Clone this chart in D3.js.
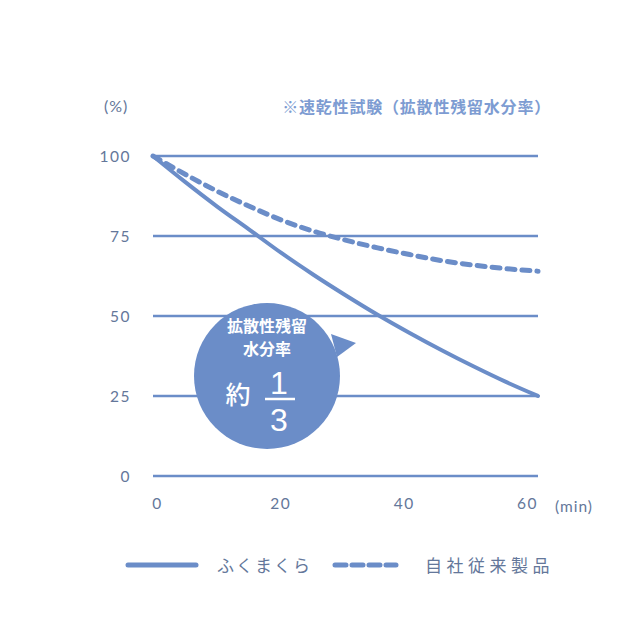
<!DOCTYPE html>
<html><head><meta charset="utf-8">
<script src="https://cdn.jsdelivr.net/npm/d3@7/dist/d3.min.js"></script>
<style>
html,body{margin:0;padding:0;background:#fff;}
svg{display:block;}
.jp{font-family:"Noto Sans CJK JP","Noto Sans",sans-serif;}
.num{font-family:"Lato","Noto Sans",sans-serif;font-weight:400;}
.frac{font-family:"Liberation Sans","Arial",sans-serif;font-weight:400;}
</style></head>
<body>
<svg id="c" width="640" height="640"></svg>
<script>
// ---- data ----
const minutes = [0,5,10,15,20,25,30,35,40,45,50,55,60];
const fukumakura = [100,91.9,84.2,77.0,69.7,62.9,56.5,50.4,44.7,39.3,34.2,29.4,25];
const conventional = [100,94.3,89.0,84.3,80.0,76.5,73.7,71.3,69.2,67.3,65.9,64.8,64.0];
const yTicks = [0,25,50,75,100];
const xTicks = [0,20,40,60];
const seriesNames = ["ふくまくら","自社従来製品"];
const titleText = "※速乾性試験（拡散性残留水分率）";
const yUnit = "(%)";
const xUnit = "(min)";
const bubbleLines = ["拡散性残留","水分率"];
const bubbleApprox = "約";
const bubbleNum = "1", bubbleDen = "3";

const blue = "#6b8dc8";
const textCol = "#64779a";

const svg = d3.select("#c");
const x = d3.scaleLinear().domain([0,60]).range([153,538]);
const y = d3.scaleLinear().domain([0,100]).range([476,156]);
const xLabel = d3.scaleLinear().domain([0,60]).range([157,527]);

// grid
svg.append("g").selectAll("line").data(yTicks).join("line")
  .attr("x1",x(0)).attr("x2",x(60))
  .attr("y1",d=>y(d)).attr("y2",d=>y(d))
  .attr("stroke",blue).attr("stroke-width",2.4);

// y axis labels
const ya = svg.append("g").attr("transform","translate(131,0)")
  .call(d3.axisLeft(y).tickValues(yTicks).tickSize(0).tickPadding(0));
ya.select(".domain").remove();
ya.selectAll("text").attr("class","num").attr("font-size",15.5).attr("fill",textCol)
  .attr("letter-spacing",1.5).attr("dy","0.35em");

// x axis labels
const xa = svg.append("g").attr("transform","translate(0,498)")
  .call(d3.axisBottom(xLabel).tickValues(xTicks).tickSize(0).tickPadding(0));
xa.select(".domain").remove();
xa.selectAll("text").attr("class","num").attr("font-size",15.5).attr("fill",textCol)
  .attr("letter-spacing",1.5).attr("dy","0.71em");

svg.append("text").attr("class","num").attr("x",555).attr("y",512)
  .attr("font-size",15.5).attr("fill",textCol).attr("letter-spacing",1).text(xUnit);
svg.append("text").attr("class","num").attr("x",104).attr("y",112)
  .attr("font-size",16).attr("fill",textCol).attr("letter-spacing",1).text(yUnit);
svg.append("text").attr("class","jp").attr("x",551).attr("y",113)
  .attr("text-anchor","end").attr("font-size",16).attr("font-weight",700)
  .attr("fill","#7d9cd2").attr("letter-spacing",0.8).text(titleText);

// lines
const line = d3.line().x((d,i)=>x(minutes[i])).y(d=>y(d)).curve(d3.curveMonotoneX);
svg.append("path").attr("d",line(conventional)).attr("fill","none")
  .attr("stroke",blue).attr("stroke-width",5).attr("stroke-dasharray","8,7")
  .attr("stroke-linecap","round");
svg.append("path").attr("d",line(fukumakura)).attr("fill","none")
  .attr("stroke",blue).attr("stroke-width",4).attr("stroke-linecap","round");

// bubble
const bg = svg.append("g");
bg.append("circle").attr("cx",267).attr("cy",376).attr("r",73).attr("fill",blue);
bg.append("path").attr("d","M331,334 L356,343 L337,357 Z").attr("fill",blue);
bg.selectAll("text.bl").data(bubbleLines).join("text").attr("class","jp bl")
  .attr("x",267).attr("y",(d,i)=>332+i*23).attr("text-anchor","middle")
  .attr("font-size",16).attr("font-weight",700).attr("fill","#fff").text(d=>d);
bg.append("text").attr("class","jp").attr("x",238).attr("y",404).attr("text-anchor","middle")
  .attr("font-size",25).attr("font-weight",500).attr("fill","#fff").text(bubbleApprox);
bg.append("text").attr("class","frac").attr("x",279).attr("y",393.5).attr("text-anchor","middle")
  .attr("font-size",32).attr("fill","#fff").text(bubbleNum);
bg.append("line").attr("x1",265).attr("x2",295).attr("y1",399).attr("y2",399)
  .attr("stroke","#fff").attr("stroke-width",2.5);
bg.append("text").attr("class","frac").attr("x",279).attr("y",430.5).attr("text-anchor","middle")
  .attr("font-size",32).attr("fill","#fff").text(bubbleDen);

// legend
svg.append("line").attr("x1",128).attr("x2",196).attr("y1",565).attr("y2",565)
  .attr("stroke",blue).attr("stroke-width",5).attr("stroke-linecap","round");
svg.append("line").attr("x1",335).attr("x2",396).attr("y1",565).attr("y2",565)
  .attr("stroke",blue).attr("stroke-width",5).attr("stroke-dasharray","11,6")
  .attr("stroke-linecap","round");
svg.selectAll("text.lg").data(seriesNames).join("text").attr("class","jp lg")
  .attr("x",(d,i)=>i===0?217:425).attr("y",572)
  .attr("font-size",17).attr("fill",textCol).attr("letter-spacing",(d,i)=>i===0?2:4.5)
  .text(d=>d);
</script>
</body></html>
